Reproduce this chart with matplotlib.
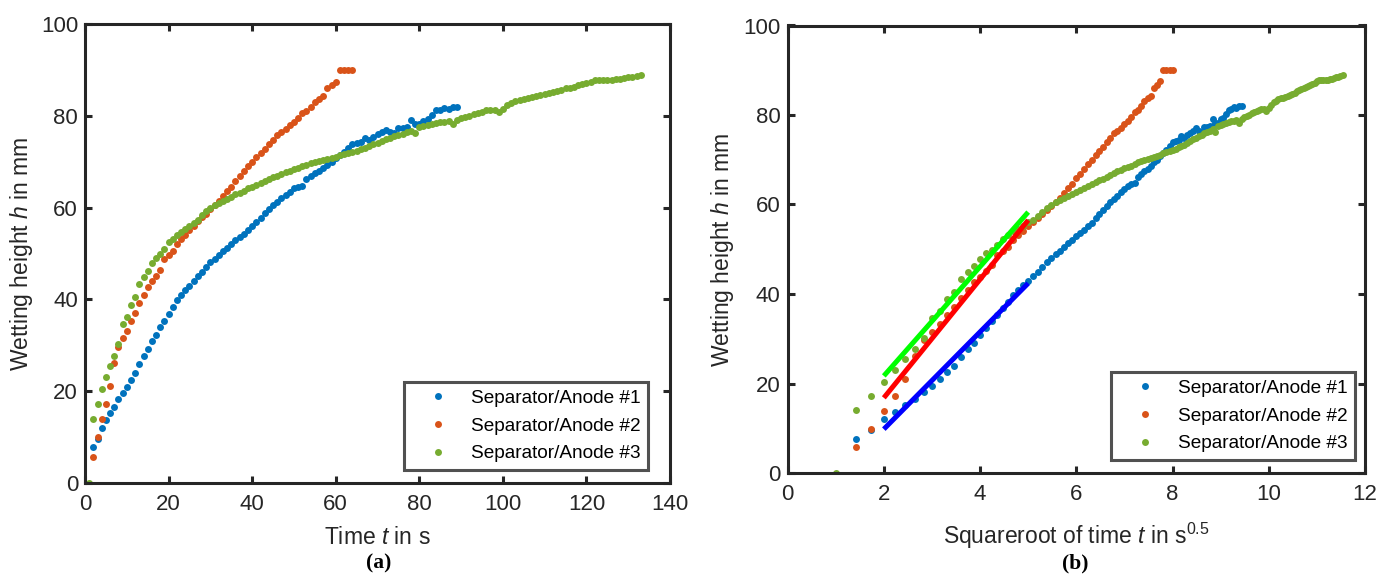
import numpy as np
import matplotlib
matplotlib.use('Agg')
from matplotlib import pyplot as plt

plt.rcParams['font.family'] = ['Liberation Sans', 'DejaVu Sans']
plt.rcParams['mathtext.fontset'] = 'custom'
plt.rcParams['mathtext.rm'] = 'Liberation Sans'
plt.rcParams['mathtext.it'] = 'Liberation Sans:italic'

# wetting height h in mm, one reading per second
t1_start, t2_start, t3_start = 2, 2, 1
h1 = [7.7, 9.6, 12.0, 13.6, 15.2, 16.6, 18.2, 19.5, 20.9, 22.5,
      24.0, 26.0, 27.7, 29.1, 30.9, 32.3, 34.0, 35.3, 36.8, 38.3,
      39.8, 41.0, 42.0, 43.0, 44.1, 45.0, 46.0, 47.1, 48.1, 48.9,
      49.7, 50.5, 51.3, 52.1, 52.9, 53.6, 54.3, 55.1, 55.9, 56.9,
      57.8, 58.8, 59.7, 60.6, 61.3, 62.0, 62.8, 63.5, 64.2, 64.6,
      64.7, 66.2, 66.8, 67.5, 68.0, 68.7, 69.4, 70.0, 70.8, 71.5,
      72.2, 73.0, 73.9, 74.2, 74.4, 75.2, 74.8, 75.5, 76.0, 76.5,
      77.0, 76.4, 76.2, 77.3, 77.3, 77.6, 79.1, 78.2, 78.2, 79.0,
      79.3, 80.2, 81.2, 81.4, 81.7, 81.5, 81.9, 82.0]
h2 = [5.7, 9.9, 13.8, 17.2, 21.0, 26.1, 29.7, 31.6, 33.2, 35.2,
      37.0, 39.1, 41.0, 42.7, 43.9, 45.1, 46.4, 48.7, 49.6, 50.6,
      52.0, 53.2, 54.0, 55.1, 56.0, 57.0, 57.9, 58.7, 59.7, 60.6,
      61.4, 62.5, 63.6, 64.6, 65.9, 66.8, 68.0, 69.0, 70.0, 71.1,
      71.9, 72.9, 73.9, 74.8, 75.9, 76.5, 77.2, 78.1, 78.6, 79.5,
      80.6, 81.1, 82.0, 83.1, 83.7, 84.3, 86.0, 86.8, 87.5, 90.0,
      90.0, 90.0, 90.0]
h3 = [0.0, 14.0, 17.2, 20.4, 23.1, 25.5, 27.7, 30.2, 34.7, 36.1,
      38.8, 40.5, 43.4, 44.9, 46.2, 47.9, 49.1, 49.8, 51.0, 52.4,
      53.2, 54.0, 54.6, 55.3, 56.0, 56.6, 57.4, 58.3, 59.2, 59.9,
      60.5, 61.0, 61.5, 61.9, 62.4, 62.9, 63.3, 63.7, 64.2, 64.6,
      65.0, 65.4, 65.8, 66.2, 66.6, 67.0, 67.4, 67.7, 68.1, 68.4,
      68.7, 69.1, 69.4, 69.7, 70.0, 70.2, 70.5, 70.7, 70.9, 71.1,
      71.4, 71.7, 72.0, 72.2, 72.4, 72.8, 73.1, 73.4, 73.8, 74.2,
      74.6, 74.9, 75.2, 75.6, 75.9, 76.1, 76.4, 76.8, 76.2, 77.6,
      77.8, 78.0, 78.2, 78.4, 78.6, 78.7, 78.8, 78.2, 79.1, 79.5,
      79.8, 80.1, 80.4, 80.7, 80.9, 81.2, 81.3, 81.4, 80.9, 81.6,
      82.3, 82.9, 83.2, 83.5, 83.7, 83.9, 84.1, 84.3, 84.5, 84.8,
      85.0, 85.3, 85.5, 85.7, 86.0, 86.2, 86.4, 86.7, 86.9, 87.1,
      87.5, 87.8, 87.8, 87.8, 87.9, 87.9, 88.0, 88.1, 88.2, 88.4,
      88.5, 88.7, 88.9]

# linear fits in the sqrt(t) plot
fit_x = [2, 5]
fit1 = [9.8, 42.4]
fit2 = [16.8, 56.5]
fit3 = [21.7, 58.3]

labels = ['Separator/Anode #1', 'Separator/Anode #2', 'Separator/Anode #3']
colors = ['#0072BD', '#D95319', '#77AC30']
fit_colors = ['#0000FF', '#FF0000', '#00FF00']

series = [(t1_start, h1), (t2_start, h2), (t3_start, h3)]

W, H = 1382, 580
fig = plt.figure(figsize=(W / 100, H / 100), dpi=100)
ax1 = fig.add_axes([85/W, 1-482.7/H, 585/W, 458.4/H])
ax2 = fig.add_axes([787.6/W, 1-473/H, 577.4/W, 447.5/H])

def style(ax):
    for s in ax.spines.values():
        s.set_linewidth(2.2)
        s.set_color('#262626')
    ax.tick_params(direction='in', length=5, width=2.2, color='#262626',
                   top=True, right=True, labelsize=16, labelcolor='#262626')
    ax.tick_params(axis='x', pad=8)
    ax.tick_params(axis='y', pad=5)

for (t0, h), lab, c in zip(series, labels, colors):
    t = np.arange(t0, t0 + len(h))
    ax1.plot(t, h, 'o', ms=5, mec='none', color=c, label=lab)
    ax2.plot(np.sqrt(t), h, 'o', ms=5, mec='none', color=c, label=lab)

for fy, fc in zip([fit1, fit2, fit3], fit_colors):
    ax2.plot(fit_x, fy, '-', color=fc, lw=3.6, zorder=3, solid_capstyle='butt')

ax1.set_xlim(0, 140)
ax1.set_ylim(0, 100)
ax1.set_xticks(range(0, 141, 20))
ax1.set_yticks(range(0, 101, 20))
ax2.set_xlim(0, 12)
ax2.set_ylim(0, 100)
ax2.set_xticks(range(0, 13, 2))
ax2.set_yticks(range(0, 101, 20))

ax1.set_xlabel('Time $t$ in s', fontsize=16.5, color='#262626')
ax1.set_ylabel('Wetting height $h$ in mm', fontsize=16.5, color='#262626')
ax2.set_xlabel('Squareroot of time $t$ in s$^{0.5}$', fontsize=16.5, color='#262626')
ax2.set_ylabel('Wetting height $h$ in mm', fontsize=16.5, color='#262626')
ax1.xaxis.set_label_coords(0.5, (482.7 - 526) / 458.4)
ax2.xaxis.set_label_coords(0.5, (473 - 521) / 447.5)
ax1.yaxis.set_label_coords((35 - 85) / 585, 0.5)
ax2.yaxis.set_label_coords((736 - 787.6) / 577.4, 0.5)

leg_anchor = [((648 - 85) / 585, (482.7 - 470) / 458.4),
              ((1355 - 787.6) / 577.4, (473 - 460) / 447.5)]
for ax, anc in zip((ax1, ax2), leg_anchor):
    style(ax)
    leg = ax.legend(loc='lower right', bbox_to_anchor=anc, fontsize=13.7, frameon=True,
                    fancybox=False, borderaxespad=0, handlelength=2.8,
                    handletextpad=0.3, labelspacing=0.55, borderpad=0.4)
    leg.get_frame().set_edgecolor('#262626')
    leg.get_frame().set_linewidth(2.2)

fig.text(379/W, 1-563/H, '(a)', ha='center', va='center', fontsize=15.5,
         family='Liberation Serif', fontweight='bold')
fig.text(1075/W, 1-563/H, '(b)', ha='center', va='center', fontsize=15.5,
         family='Liberation Serif', fontweight='bold')

fig.savefig('out.png', dpi=100)
